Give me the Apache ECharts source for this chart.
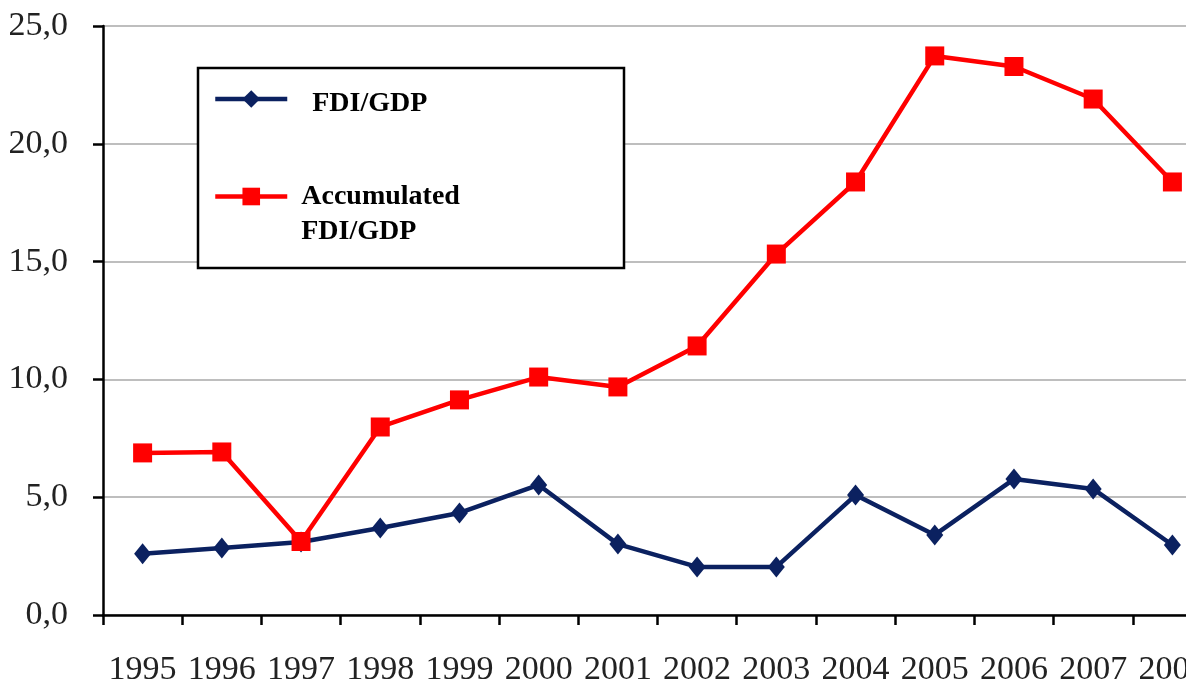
<!DOCTYPE html>
<html>
<head>
<meta charset="utf-8">
<script src="https://cdn.jsdelivr.net/npm/echarts@6/dist/echarts.min.js"></script>
<style>
  html, body { margin: 0; padding: 0; background: #fff; }
  #chart { width: 1186px; height: 681px; }
</style>
</head>
<body>
<div id="chart"></div>
<script>
  // data
  const years = ['1995', '1996', '1997', '1998', '1999', '2000', '2001', '2002', '2003', '2004', '2005', '2006', '2007', '2008']
  const fdiGdp = [2.6, 2.84, 3.1, 3.69, 4.33, 5.52, 3.01, 2.04, 2.04, 5.09, 3.4, 5.77, 5.35, 2.97]
  const accumulatedFdiGdp = [6.88, 6.92, 3.12, 7.98, 9.13, 10.1, 9.68, 11.42, 15.32, 18.38, 23.73, 23.28, 21.9, 18.38]

  const NAVY = '#0b2160'
  const RED = '#ff0000'
  const FONT = '"Liberation Serif", "DejaVu Serif", serif'

  const chart = echarts.init(document.getElementById('chart'))

  const legendText = {
    fontFamily: FONT,
    fontWeight: 'bold',
    fontSize: 28,
    color: '#000'
  }

  const option = {
    animation: false,
    backgroundColor: '#fff',
    grid: {
      left: 103,
      top: 26,
      width: 1109,
      height: 589,
      outerBoundsMode: 'none'
    },
    // legend frame
    graphic: [
      {
        type: 'rect',
        z: 10,
        shape: { x: 198, y: 68, width: 426, height: 200 },
        style: { fill: '#fff', stroke: '#000', lineWidth: 2.5 }
      }
    ],
    legend: [
      {
        data: ['FDI/GDP'],
        z: 20,
        left: 213,
        top: 80,
        padding: 0,
        itemWidth: 72,
        itemHeight: 22,
        lineStyle: { width: 4.5 },
        // text sits a little lower than the icon
        formatter: name => ' \n' + name,
        textStyle: Object.assign({ lineHeight: 10, padding: [0, 0, 0, 20] }, legendText)
      },
      {
        data: ['Accumulated FDI/GDP'],
        z: 20,
        left: 213,
        top: 144,
        padding: 0,
        itemWidth: 72,
        itemHeight: 22,
        lineStyle: { width: 4.5 },
        // first text line sits level with the icon, second line below it
        formatter: name => ' \n' + name.replace(' ', '\n'),
        textStyle: Object.assign({ lineHeight: 35, padding: [0, 0, 0, 9] }, legendText)
      }
    ],
    xAxis: {
      type: 'category',
      data: years,
      boundaryGap: true,
      axisLine: { lineStyle: { color: '#000', width: 2.5 } },
      axisTick: { show: true, interval: 0, length: 10, lineStyle: { color: '#000', width: 2.5 } },
      axisLabel: {
        interval: 0,
        margin: 38,
        fontFamily: FONT,
        fontSize: 34,
        color: '#222'
      }
    },
    yAxis: {
      type: 'value',
      min: 0,
      max: 25,
      interval: 5,
      axisLine: { show: true, lineStyle: { color: '#000', width: 2.5 } },
      axisTick: { show: true, length: 10, lineStyle: { color: '#000', width: 2.5 } },
      splitLine: { show: true, lineStyle: { color: '#a8a8a8', width: 1.5 } },
      axisLabel: {
        margin: 35,
        fontFamily: FONT,
        fontSize: 34,
        color: '#222',
        formatter: v => v.toFixed(1).replace('.', ',')
      }
    },
    series: [
      {
        name: 'FDI/GDP',
        type: 'line',
        data: fdiGdp,
        symbol: 'diamond',
        symbolSize: [17, 21],
        lineStyle: { color: NAVY, width: 4.5 },
        itemStyle: { color: NAVY },
        z: 3
      },
      {
        name: 'Accumulated FDI/GDP',
        type: 'line',
        data: accumulatedFdiGdp,
        symbol: 'rect',
        symbolSize: 19,
        lineStyle: { color: RED, width: 4.5 },
        itemStyle: { color: RED },
        z: 4
      }
    ]
  }

  chart.setOption(option)
</script>
</body>
</html>
